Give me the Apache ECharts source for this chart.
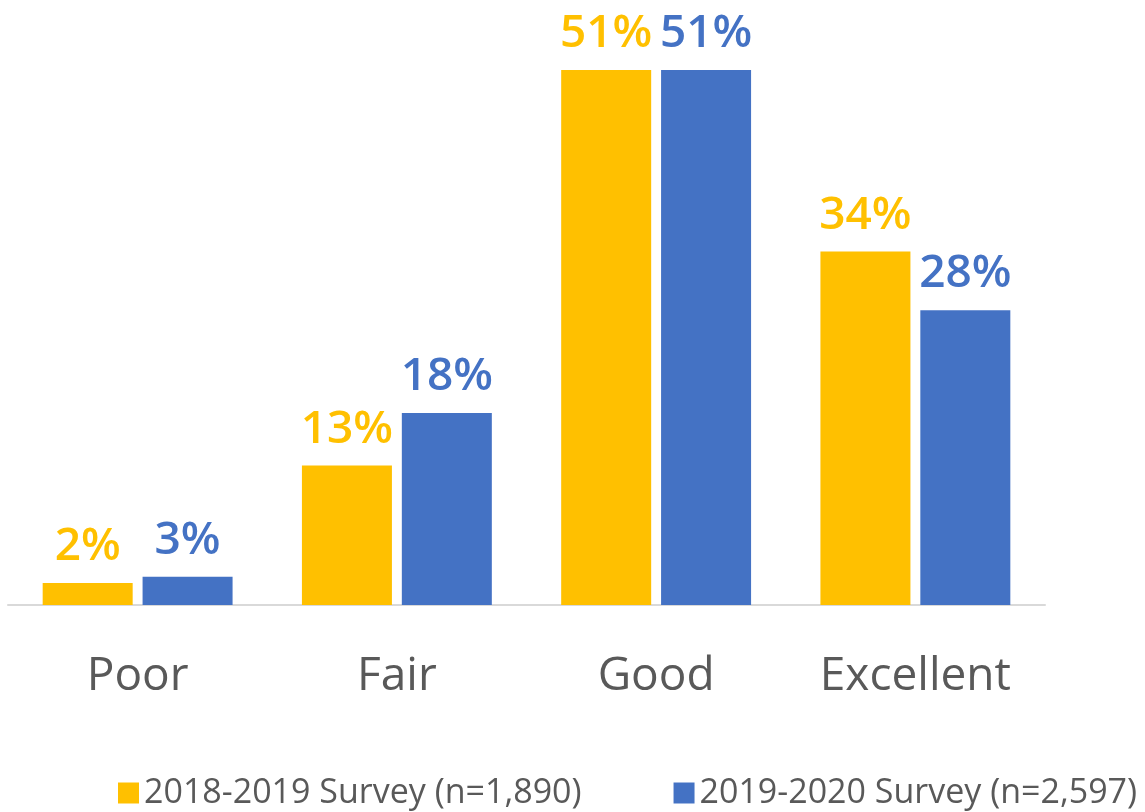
<!DOCTYPE html>
<html>
<head>
<meta charset="utf-8">
<script src="https://cdn.jsdelivr.net/npm/echarts@6/dist/echarts.min.js"></script>
<style>
  html, body { margin: 0; padding: 0; background: #fff; }
  #chart { width: 1145px; height: 812px; }
</style>
</head>
<body>
<div id="chart"></div>
<script>
// 数据
var categories = ['Poor', 'Fair', 'Good', 'Excellent'];
var seriesNames = ['2018-2019 Survey (n=1,890)', '2019-2020 Survey (n=2,597)'];
var survey2018 = [2.1, 13.3, 51, 33.7];
var survey2020 = [2.7, 18.3, 51, 28.1];

var fontFamily = '"Open Sans", "Noto Sans", sans-serif';

function barLabel(color) {
    return {
        show: true,
        position: 'top',
        distance: 13,
        color: color,
        fontSize: 46,
        fontWeight: 600,
        fontFamily: fontFamily,
        formatter: function (p) {
            return Math.round(p.value) + '%';
        }
    };
}

var mychart = echarts.init(document.getElementById('chart'));
mychart.setOption({
    animation: false,
    color: ['#FFC000', '#4472C4'],
    grid: {
        left: 8,
        right: 100,
        top: 28,
        bottom: 207,
        containLabel: false
    },
    legend: {
        data: seriesNames,
        left: 113,
        top: 771,
        itemWidth: 21,
        itemHeight: 21,
        itemGap: 92,
        icon: 'rect',
        textStyle: {
            color: '#595959',
            fontSize: 34,
            fontFamily: fontFamily
        }
    },
    xAxis: {
        type: 'category',
        data: categories,
        axisLine: { lineStyle: { color: '#d9d9d9', width: 2 } },
        axisTick: { show: false },
        axisLabel: {
            color: '#595959',
            fontSize: 46,
            fontFamily: fontFamily,
            margin: 49,
            interval: 0
        }
    },
    yAxis: {
        type: 'value',
        min: 0,
        max: 55,
        show: false
    },
    series: [
        {
            name: seriesNames[0],
            type: 'bar',
            data: survey2018,
            barWidth: 90,
            barGap: '11%',
            label: barLabel('#FFC000')
        },
        {
            name: seriesNames[1],
            type: 'bar',
            data: survey2020,
            barWidth: 90,
            label: barLabel('#4472C4')
        }
    ]
});
</script>
</body>
</html>
